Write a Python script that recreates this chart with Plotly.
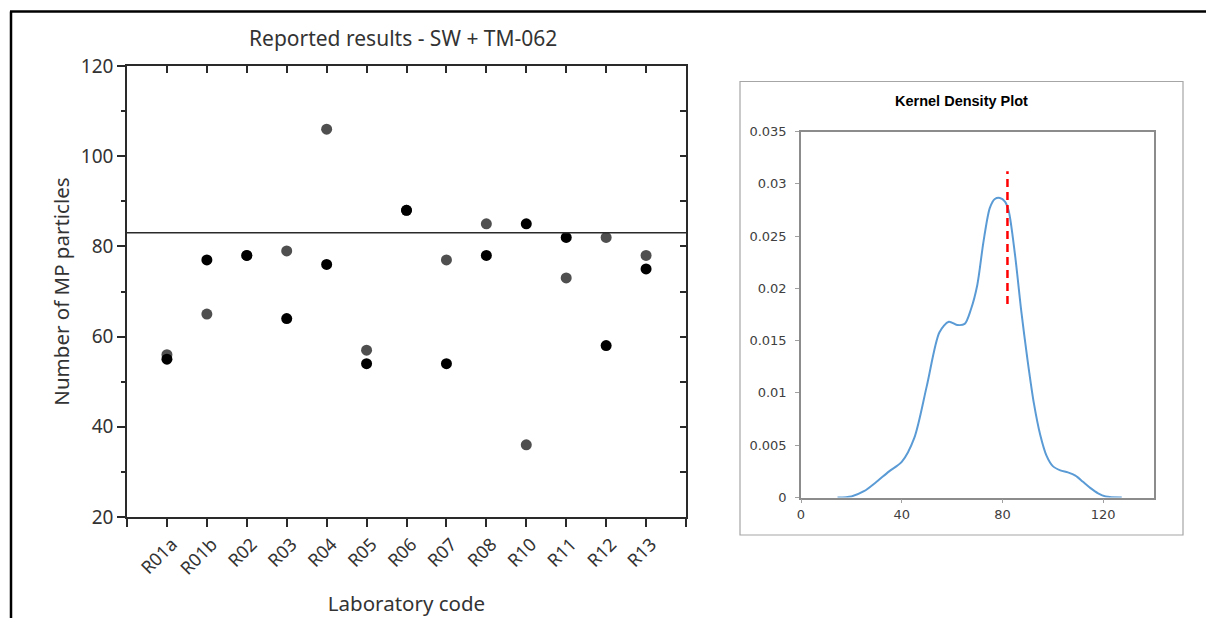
import plotly.graph_objects as go

W, H = 1206, 618

labs = ["R01a", "R01b", "R02", "R03", "R04", "R05", "R06", "R07", "R08", "R10", "R11", "R12", "R13"]
results_gray = [56, 65, 78, 79, 106, 57, 88, 77, 85, 36, 73, 82, 78]
results_black = [55, 77, 78, 64, 76, 54, 88, 54, 78, 85, 82, 58, 75]
assigned_value = 83

kde_x = [14.5, 20, 25, 30, 35, 40, 45, 50, 55, 58.7, 62, 65, 67.5, 70, 72.5, 75, 77, 79,
         81, 82.5, 85, 87.5, 90, 92.5, 95, 97.5, 100, 103, 106, 109, 112, 115, 118, 121, 127.4]
kde_y = [0.0, 0.0001, 0.0006, 0.0015, 0.0025, 0.0034, 0.0057, 0.0107, 0.0158, 0.0168, 0.0165,
         0.0166, 0.0180, 0.0203, 0.0245, 0.0277, 0.02855, 0.02865, 0.0283, 0.0274, 0.0232, 0.0178,
         0.0131, 0.0090, 0.0060, 0.0040, 0.0030, 0.0026, 0.0024, 0.0021, 0.0015, 0.0009, 0.0004,
         0.0001, 0.0]
median_x = 82
median_y = [0.0185, 0.0312]

idx = list(range(len(labs)))
FONT = "Noto Sans"
AX = "#2a2a2a"
TXT = "#333333"

def px(x):
    return x / W

def py(y):
    return 1 - y / H

fig = go.Figure()
fig.add_trace(go.Scatter(x=idx, y=results_gray, mode="markers",
                         marker=dict(color="#4f4f4f", size=11), xaxis="x", yaxis="y",
                         showlegend=False))
fig.add_trace(go.Scatter(x=idx, y=results_black, mode="markers",
                         marker=dict(color="#000000", size=11), xaxis="x", yaxis="y",
                         showlegend=False))
fig.add_trace(go.Scatter(x=kde_x, y=kde_y, mode="lines",
                         line=dict(color="#5b9bd5", width=2, shape="spline", smoothing=0.8),
                         xaxis="x2", yaxis="y2", showlegend=False))
fig.add_trace(go.Scatter(x=[median_x, median_x], y=median_y, mode="lines",
                         line=dict(color="#ff0000", width=2.5, dash="8px,5px"),
                         xaxis="x2", yaxis="y2", showlegend=False))

xdom = [px(127), px(686)]
ydom = [py(517), py(66)]

tickv = list(range(-1, len(labs) + 1))
tickt = [""] + labs + [""]

fig.update_layout(
    width=W, height=H, margin=dict(l=0, r=0, t=0, b=0),
    paper_bgcolor="white", plot_bgcolor="white",
    font=dict(family=FONT, color=TXT),
    xaxis=dict(domain=xdom, range=[-1, len(labs)], tickmode="array", tickvals=tickv, ticktext=tickt,
               tickangle=-45, ticks="outside", ticklen=8, tickcolor=AX, tickwidth=1.5,
               ticklabelshift=5,
               showline=True, linecolor=AX, linewidth=1.5, showgrid=False, zeroline=False,
               tickfont=dict(size=18, family=FONT, color=TXT),
               title=dict(text="Laboratory code", font=dict(size=20.5, family=FONT, color=TXT), standoff=18),
               automargin=False, anchor="y"),
    yaxis=dict(domain=ydom, range=[20, 120], tickmode="array", tickvals=[20, 40, 60, 80, 100, 120],
               ticks="outside", ticklen=8, tickcolor=AX, tickwidth=1.5,
               minor=dict(tickmode="array", tickvals=[30, 50, 70, 90, 110], ticks="outside", ticklen=4,
                          tickcolor=AX, tickwidth=1.5, showgrid=False),
               showline=True, linecolor=AX, linewidth=1.5, showgrid=False, zeroline=False,
               tickfont=dict(size=19, family=FONT, color=TXT),
               title=dict(text="Number of MP particles", font=dict(size=20.5, family=FONT, color=TXT), standoff=6),
               automargin=False, anchor="x"),
    xaxis3=dict(domain=xdom, range=[-1, len(labs)], overlaying="x", side="top", tickmode="array",
                tickvals=idx, ticktext=[""] * len(idx), ticks="inside", ticklen=7, tickcolor=AX, tickwidth=1.5,
                showline=True, linecolor=AX, linewidth=1.5, showgrid=False, zeroline=False,
                anchor="y", automargin=False),
    yaxis3=dict(domain=ydom, range=[20, 120], overlaying="y", side="right", tickmode="array",
                tickvals=[30, 40, 50, 60, 70, 80, 90, 100, 110], ticktext=[""] * 9,
                ticks="inside", ticklen=6, tickcolor=AX, tickwidth=1.5,
                showline=True, linecolor=AX, linewidth=1.5, showgrid=False, zeroline=False,
                anchor="x", automargin=False),
    xaxis2=dict(domain=[px(801), px(1153.5)], range=[0, 140], tickmode="array", tickvals=[0, 40, 80, 120],
                ticks="outside", ticklen=4, tickcolor="#a0a0a0", showline=True, mirror=True,
                linecolor="#8c8c8c", linewidth=1.5, showgrid=False, zeroline=False,
                tickfont=dict(size=13, family="DejaVu Sans", color="#404040"), anchor="y2", automargin=False),
    yaxis2=dict(domain=[py(497.5), py(131.5)], range=[0, 0.035], tickmode="array",
                tickvals=[0, 0.005, 0.01, 0.015, 0.02, 0.025, 0.03, 0.035],
                ticktext=["0", "0.005", "0.01", "0.015", "0.02", "0.025", "0.03", "0.035"],
                ticks="outside", ticklen=4, tickcolor="#a0a0a0", showline=True, mirror=True,
                ticklabelstandoff=6,
                linecolor="#8c8c8c", linewidth=1.5, showgrid=False, zeroline=False,
                tickfont=dict(size=13, family="DejaVu Sans", color="#404040"), anchor="x2", automargin=False),
    shapes=[
        dict(type="line", xref="x domain", yref="y", x0=0, x1=1, y0=assigned_value, y1=assigned_value,
             line=dict(color=AX, width=1.5)),
        dict(type="rect", xref="paper", yref="paper", x0=px(740), x1=px(1183), y0=py(535), y1=py(81.5),
             line=dict(color="#a6a6a6", width=1.2), layer="below"),
        dict(type="line", xref="paper", yref="paper", x0=px(10), x1=1, y0=py(11.5), y1=py(11.5),
             line=dict(color="black", width=2.5)),
        dict(type="line", xref="paper", yref="paper", x0=px(11), x1=px(11), y0=0, y1=py(11.5),
             line=dict(color="black", width=2.5)),
    ],
    annotations=[
        dict(text="Reported results - SW + TM-062", xref="paper", yref="paper", x=px(403), y=py(38),
             showarrow=False, font=dict(size=21, family=FONT, color=TXT), xanchor="center", yanchor="middle"),
        dict(text="<b>Kernel Density Plot</b>", xref="paper", yref="paper", x=px(961), y=py(101.5),
             showarrow=False, font=dict(size=14.5, family="Liberation Sans", color="#000000"),
             xanchor="center", yanchor="middle"),
    ],
)

# make overlay axes appear
fig.add_trace(go.Scatter(x=[None], y=[None], xaxis="x3", yaxis="y3", showlegend=False, hoverinfo="skip"))

fig.write_html("out.html")
